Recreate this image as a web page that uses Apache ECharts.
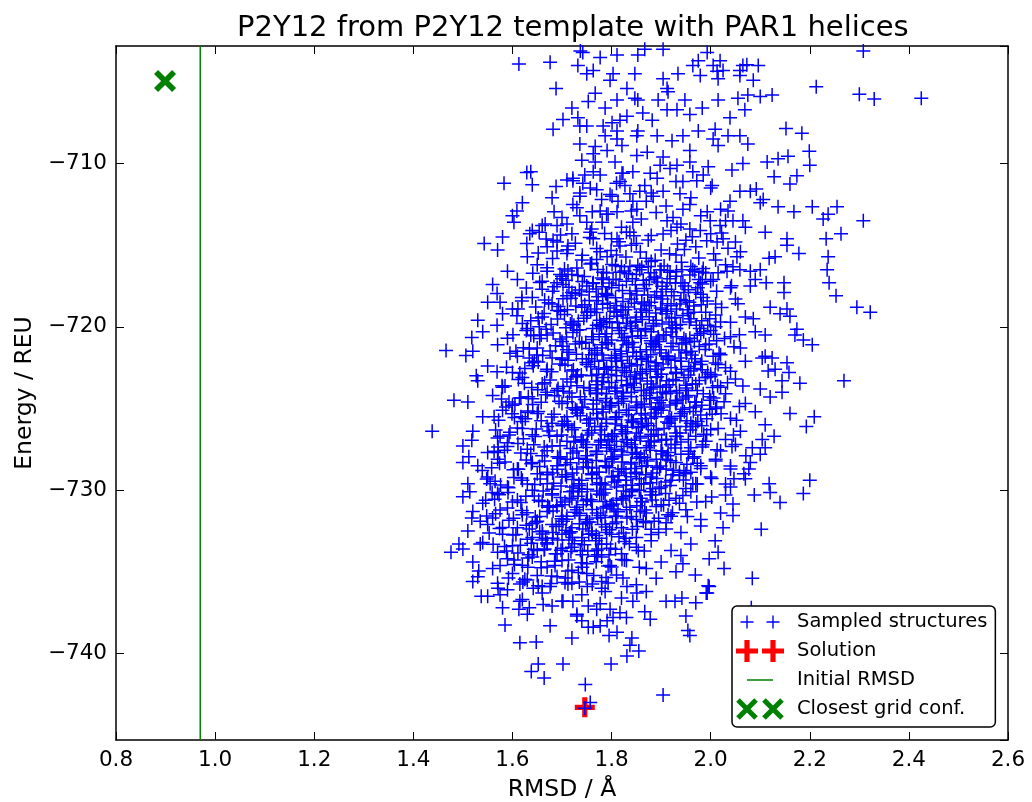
<!DOCTYPE html>
<html>
<head>
<meta charset="utf-8">
<script src="https://cdn.jsdelivr.net/npm/echarts@6/dist/echarts.min.js"></script>
<style>
  html, body { margin: 0; padding: 0; background: #fff; }
  #chart { width: 1032px; height: 802px; }
</style>
</head>
<body>
<div id="chart"></div>
<script>
// axis ranges
const rmsdMin = 0.8, rmsdMax = 2.6;
const energyMin = -745.3, energyMax = -702.8;

// reference markers
const initialRmsd = 0.97;
const solution = [[1.746, -743.3]];
const closestGrid = [[0.899, -704.95]];

// sampled structures
const topCloud = [
  [1.737,-703.1],[1.742,-703.2],[1.777,-703.5],[1.811,-703.35],[1.853,-703.35],[1.867,-703.0],[1.904,-703.0],
  [1.993,-703.2],[2.019,-703.7],[2.065,-704.0],[1.975,-703.7],[1.964,-704.0],[2.005,-704.0],[2.025,-704.3],
  [1.979,-704.6],[2.015,-704.8],[2.059,-704.6],[1.934,-704.5],[1.904,-704.8],[1.912,-705.4],[1.914,-705.6],
  [1.847,-704.5],[1.803,-704.5],[1.797,-704.9],[1.763,-704.3],[1.750,-704.5],[1.732,-704.0],[1.831,-705.4],
  [1.767,-705.7],[1.753,-706.2],[1.787,-706.6],[1.811,-706.1],[1.847,-706.0],[1.853,-706.1],[1.894,-706.1],
  [1.948,-706.1],[2.015,-706.1],[2.055,-706.0],[1.863,-706.9],[1.831,-707.1],[1.817,-707.35],[1.882,-707.35],
  [1.912,-706.7],[1.932,-706.7],[1.958,-707.0],[1.983,-706.6],[2.039,-707.2],[2.069,-706.7],[2.035,-708.3],
  [2.059,-708.3],[2.005,-708.5],[1.975,-708.0],[1.944,-708.3],[1.922,-708.6],[1.892,-708.3],[1.853,-708.0],
  [1.851,-708.3],[1.821,-708.9],[1.791,-709.2],[2.015,-708.9],[1.958,-709.2],
  [1.613,-703.9],[1.676,-703.8],[1.688,-705.4],[1.682,-707.9],[1.702,-707.3],[1.720,-706.6],[1.583,-711.2],
  [1.629,-710.55],[1.637,-710.5],[1.688,-711.4],[1.722,-711.05],[1.732,-707.2],[1.736,-707.7],[1.750,-707.7],
  [1.783,-707.7],[1.801,-707.5],[1.811,-708.0],[1.787,-708.3],[1.811,-708.5],[1.736,-708.8],[1.767,-708.95],
  [1.763,-709.4],[1.740,-709.8],[1.767,-709.9],[1.807,-709.9],[1.763,-710.5],[1.777,-710.7],[1.821,-710.6],
  [1.742,-711.2],[1.757,-711.5],[1.736,-711.8],[1.797,-711.9],[1.827,-711.35]
];

const upperCloud = [
  [1.609,-712.9],[1.603,-713.6],[1.684,-712.95],[1.666,-713.7],[1.690,-713.8],[1.710,-713.7],[1.543,-714.9],
  [1.635,-714.3],[1.629,-714.9],[1.654,-714.2],[1.682,-714.7],[1.690,-715.35],[1.712,-715.05],[1.670,-716.6],
  [1.660,-717.2],[1.696,-716.8],[1.720,-716.8],[1.702,-717.4],[1.736,-713.2],[1.722,-712.5],[1.736,-712.0],
  [1.722,-710.9],[1.746,-710.7],[1.801,-712.0],[1.813,-712.3],[1.811,-712.95],[1.793,-713.1],[1.777,-712.9],
  [1.781,-713.6],[1.761,-712.95],[1.757,-714.2],[1.763,-714.6],[1.777,-715.4],[1.791,-715.7],[1.811,-714.6],
  [1.817,-715.05],[1.837,-714.2],[1.843,-713.6],[1.851,-712.8],[1.843,-712.3],[1.837,-711.85],[1.857,-711.7],
  [1.867,-711.35],[1.884,-712.0],[1.904,-711.7],[1.892,-710.9],[1.878,-710.6],[1.843,-710.5],[1.823,-710.6],
  [1.817,-711.1],[1.851,-709.5],[1.872,-709.3],[1.904,-709.6],[1.898,-710.1],[1.918,-710.3],[1.932,-710.1],
  [1.958,-709.9],[1.964,-710.5],[1.995,-710.2],[1.985,-710.7],[2.003,-711.35],[1.972,-711.05],[1.944,-711.1],
  [1.938,-711.85],[1.958,-712.5],[1.944,-712.8],[1.924,-713.3],[1.912,-713.5],[1.932,-713.9],[1.958,-714.0],
  [1.979,-714.1],[1.999,-713.5],[1.993,-712.95],[2.039,-712.3],[2.035,-712.9],[2.045,-713.5],[2.065,-713.5],
  [2.065,-710.0],[2.043,-710.4],[2.059,-711.7],[2.019,-713.8],[2.025,-714.6],[2.013,-714.8],[2.053,-715.7],
  [2.059,-716.5],[2.033,-716.6],[2.005,-717.1],[1.983,-716.65],[1.964,-716.5],[1.942,-716.5],[1.918,-716.65],
  [1.898,-716.5],[1.874,-716.3],[1.857,-716.5],[1.837,-716.3],[1.817,-716.65],[1.803,-717.1],[1.783,-717.1],
  [1.763,-717.3],[1.912,-717.3],[1.944,-717.3],[1.979,-717.3]
];

const rightTail = [
  [2.213,-705.3],[2.300,-705.75],[2.330,-706.05],[2.425,-706.0],[2.308,-703.1],[2.152,-707.85],[2.184,-708.15],
  [2.199,-709.25],[2.200,-710.1],[2.156,-709.55],[2.136,-709.7],[2.114,-709.9],[2.128,-710.8],[2.174,-710.75],
  [2.160,-711.25],[2.092,-711.55],[2.106,-712.2],[2.136,-712.65],[2.168,-712.95],[2.205,-712.65],[2.255,-712.65],
  [2.227,-713.4],[2.237,-713.1],[2.308,-713.5],[2.263,-714.3],[2.233,-714.6],[2.154,-714.6],[2.154,-715.0],
  [2.178,-715.5],[2.237,-715.7],[2.118,-715.8],[2.235,-716.5],[2.239,-717.3],[2.253,-718.1],[2.295,-718.8],
  [2.322,-719.1],[2.148,-717.3],[2.148,-717.9],[2.112,-717.3],[2.080,-717.5],[2.154,-718.9],[2.160,-719.35],
  [2.174,-720.15],[2.110,-720.5],[2.086,-719.5],[2.100,-716.5],
  [2.059,-704.3],[2.096,-704.0],[2.073,-703.95],[2.086,-704.9],[2.013,-704.35],[2.100,-705.9],[2.124,-705.8],
  [2.075,-705.8],[2.009,-707.9],[2.075,-708.8],
  [2.269,-723.3],[2.209,-725.5],[2.193,-726.1],[2.205,-721.1],[2.187,-720.8],[2.180,-723.45],[2.158,-722.8],
  [2.154,-722.2],[2.144,-723.3],[2.144,-724.0],[2.160,-725.3],[2.128,-726.7],[2.104,-726.9],[2.110,-727.4],
  [2.084,-727.4],[2.200,-729.4],[2.187,-730.2],[2.118,-729.6],[2.120,-730.15],[2.140,-730.75],[2.088,-730.3],
  [2.102,-732.4],[2.084,-735.4],[2.027,-734.8],[2.015,-733.8],[1.997,-734.2],[2.009,-733.1],[2.025,-732.3],
  [2.045,-731.55],[2.045,-730.85],[1.995,-735.85],[1.991,-736.3],[2.082,-737.2],[2.124,-721.9],[2.116,-722.7],
  [2.104,-721.9],[2.071,-727.9],[2.077,-728.7],[2.067,-729.0],[2.047,-729.3],[2.170,-720.5]
];

const bottomTail = [
  [1.746,-743.35],[1.757,-743.0],[1.747,-741.9],[1.904,-742.55],[1.664,-741.5],[1.638,-741.1],[1.652,-740.65],
  [1.702,-740.65],[1.799,-740.65],[1.615,-739.35],[1.648,-739.3],[1.720,-739.05],[1.585,-738.25],[1.676,-738.3],
  [1.831,-740.15],[1.855,-739.85],[1.837,-739.5],[1.841,-739.05],[1.795,-738.9],[1.811,-738.7],[1.958,-738.9],
  [1.954,-738.6],[1.950,-737.7],[1.878,-737.9],[1.867,-737.45],[1.970,-736.9],[1.942,-736.6],[1.928,-736.8],
  [1.993,-736.3],[1.997,-735.9],[1.969,-735.2],[1.944,-734.5],
  [1.537,-736.5],[1.520,-735.6],[1.532,-734.95],[1.476,-733.8],[1.492,-733.3],[1.535,-733.3],[1.575,-736.4],
  [1.571,-736.0],[1.613,-737.3],[1.634,-737.2],[1.615,-736.8],[1.662,-737.0],[1.702,-736.8],[1.722,-736.8],
  [1.730,-737.6],[1.740,-738.0],[1.753,-738.4],[1.763,-738.4],[1.777,-738.3],[1.791,-738.0],[1.803,-737.8],
  [1.817,-737.5],[1.777,-736.95],[1.753,-737.1],[1.797,-737.3],[1.843,-736.8],[1.851,-736.3],[1.831,-735.9],
  [1.787,-736.2],[1.751,-735.9],[1.712,-735.75],[1.676,-735.9],[1.642,-736.0],[1.615,-735.75]
];

const leftTail = [
  [1.438,-726.4],[1.482,-724.5],[1.466,-721.45],[1.506,-721.75],[1.518,-720.65],[1.527,-723.0],[1.569,-722.75],
  [1.579,-723.6],[1.569,-719.9],[1.569,-717.95],[1.575,-718.5],[1.611,-718.9],[1.619,-718.2],[1.518,-726.95],
  [1.575,-726.7],[1.571,-727.35],[1.571,-727.7],[1.512,-727.95],[1.500,-728.3],[1.539,-728.8],[1.514,-730.1],
  [1.555,-729.6],[1.559,-730.15],[1.518,-731.7],[1.535,-731.9],[1.607,-721.5],[1.563,-725.5],[1.587,-724.9],
  [1.593,-724.6],[1.617,-724.35],[1.637,-720.5],[1.658,-720.5],[1.654,-720.0],[1.634,-721.9],[1.644,-722.1],
  [1.617,-725.5],[1.631,-725.25]
];

const coreCloud = [
  [1.64,-711.3],[1.71,-711.0],[1.77,-711.6],[1.81,-711.2],[1.88,-711.8],[1.93,-711.1],[2.00,-711.5],[2.08,-711.7],
  [1.62,-712.4],[1.68,-712.1],[1.73,-712.7],[1.78,-712.2],[1.84,-712.9],[1.87,-712.3],[1.91,-712.6],[1.96,-712.1],[2.02,-712.8],[2.10,-712.4],
  [1.60,-713.2],[1.66,-713.8],[1.70,-713.3],[1.75,-713.6],[1.79,-713.1],[1.82,-713.9],[1.86,-713.4],[1.89,-713.0],[1.94,-713.7],[1.98,-713.2],[2.03,-713.5],[2.07,-713.9],
  [1.58,-714.5],[1.64,-714.1],[1.69,-714.8],[1.72,-714.3],[1.76,-714.0],[1.80,-714.6],[1.83,-714.2],[1.85,-714.9],[1.88,-714.4],[1.92,-714.1],[1.95,-714.7],[2.00,-714.3],[2.05,-714.8],[2.11,-714.2],
  [1.57,-715.3],[1.63,-715.7],[1.67,-715.1],[1.71,-715.5],[1.74,-715.9],[1.77,-715.2],[1.81,-715.6],[1.84,-715.0],[1.87,-715.8],[1.90,-715.3],[1.93,-715.6],[1.97,-715.1],[2.01,-715.9],[2.06,-715.4],[2.13,-715.7],
  [1.59,-716.6],[1.65,-716.2],[1.70,-716.9],[1.73,-716.4],[1.76,-716.1],[1.79,-716.7],[1.82,-716.3],[1.85,-716.8],[1.88,-716.0],[1.90,-716.5],[1.93,-716.9],[1.96,-716.3],[1.99,-716.7],[2.03,-716.2],[2.08,-716.6],
  [1.56,-717.4],[1.61,-717.1],[1.66,-717.7],[1.69,-717.3],[1.72,-717.9],[1.75,-717.5],[1.78,-717.0],[1.80,-717.6],[1.83,-717.2],[1.85,-717.8],[1.87,-717.4],[1.89,-717.0],[1.91,-717.7],[1.94,-717.3],[1.97,-717.9],[2.00,-717.2],[2.04,-717.6],[2.09,-717.1],
  [1.55,-718.5],[1.60,-718.9],[1.64,-718.2],[1.68,-718.6],[1.71,-718.1],[1.74,-718.8],[1.77,-718.4],[1.79,-718.0],[1.81,-718.7],[1.84,-718.3],[1.86,-718.9],[1.88,-718.5],[1.90,-718.1],[1.92,-718.7],[1.95,-718.4],[1.98,-718.0],[2.01,-718.6],[2.05,-718.3],[2.12,-718.8],
  [1.53,-719.6],[1.58,-719.2],[1.62,-719.8],[1.66,-719.4],[1.69,-719.0],[1.72,-719.7],[1.75,-719.3],[1.77,-719.9],[1.79,-719.5],[1.81,-719.1],[1.83,-719.8],[1.85,-719.4],[1.87,-719.0],[1.89,-719.6],[1.91,-719.2],[1.93,-719.9],[1.96,-719.5],[1.99,-719.1],[2.02,-719.7],[2.07,-719.4],[2.14,-719.2],
  [1.54,-720.3],[1.59,-720.7],[1.63,-720.1],[1.67,-720.5],[1.70,-720.9],[1.73,-720.2],[1.76,-720.6],[1.78,-720.0],[1.80,-720.8],[1.82,-720.4],[1.84,-720.1],[1.86,-720.7],[1.88,-720.3],[1.89,-720.9],[1.91,-720.5],[1.93,-720.1],[1.95,-720.8],[1.98,-720.4],[2.01,-720.0],[2.04,-720.6],[2.09,-720.3],
  [1.52,-721.5],[1.57,-721.1],[1.61,-721.8],[1.65,-721.3],[1.68,-721.9],[1.71,-721.4],[1.74,-721.0],[1.76,-721.7],[1.78,-721.3],[1.80,-721.9],[1.82,-721.5],[1.83,-721.1],[1.85,-721.8],[1.87,-721.4],[1.88,-721.0],[1.90,-721.6],[1.92,-721.2],[1.94,-721.9],[1.96,-721.5],[1.99,-721.1],[2.02,-721.7],[2.06,-721.3],[2.11,-721.8],
  [1.55,-722.4],[1.60,-722.8],[1.64,-722.2],[1.67,-722.6],[1.70,-722.0],[1.72,-722.7],[1.75,-722.3],[1.77,-722.9],[1.79,-722.5],[1.81,-722.1],[1.83,-722.8],[1.84,-722.4],[1.86,-722.0],[1.87,-722.6],[1.89,-722.2],[1.90,-722.9],[1.92,-722.5],[1.94,-722.1],[1.96,-722.7],[1.98,-722.3],[2.00,-722.9],[2.03,-722.5],[2.07,-722.1],[2.13,-722.6],
  [1.53,-723.3],[1.58,-723.7],[1.62,-723.1],[1.66,-723.5],[1.69,-723.9],[1.71,-723.2],[1.73,-723.6],[1.76,-723.0],[1.78,-723.8],[1.80,-723.4],[1.81,-723.0],[1.83,-723.6],[1.85,-723.2],[1.86,-723.9],[1.88,-723.5],[1.89,-723.1],[1.91,-723.7],[1.93,-723.3],[1.95,-723.9],[1.97,-723.5],[1.99,-723.1],[2.02,-723.7],[2.05,-723.2],[2.10,-723.8],
  [1.51,-724.6],[1.56,-724.2],[1.60,-724.8],[1.64,-724.4],[1.67,-724.0],[1.70,-724.7],[1.72,-724.3],[1.74,-724.9],[1.77,-724.5],[1.79,-724.1],[1.80,-724.8],[1.82,-724.4],[1.84,-724.0],[1.85,-724.6],[1.87,-724.2],[1.88,-724.9],[1.90,-724.5],[1.91,-724.1],[1.93,-724.7],[1.95,-724.3],[1.97,-724.9],[2.00,-724.5],[2.03,-724.1],[2.07,-724.7],[2.12,-724.3],
  [1.54,-725.5],[1.58,-725.1],[1.62,-725.8],[1.65,-725.3],[1.68,-725.9],[1.71,-725.5],[1.73,-725.1],[1.75,-725.7],[1.77,-725.3],[1.79,-725.9],[1.81,-725.5],[1.83,-725.1],[1.84,-725.7],[1.86,-725.3],[1.87,-725.9],[1.89,-725.5],[1.90,-725.1],[1.92,-725.7],[1.94,-725.3],[1.96,-725.9],[1.98,-725.4],[2.01,-725.0],[2.04,-725.6],[2.09,-725.2],
  [1.52,-726.4],[1.57,-726.8],[1.61,-726.2],[1.64,-726.6],[1.67,-726.1],[1.69,-726.7],[1.72,-726.3],[1.74,-726.9],[1.76,-726.5],[1.78,-726.1],[1.80,-726.7],[1.82,-726.3],[1.83,-726.9],[1.85,-726.5],[1.86,-726.1],[1.88,-726.7],[1.89,-726.3],[1.91,-726.9],[1.93,-726.5],[1.95,-726.1],[1.97,-726.7],[2.00,-726.3],[2.03,-726.9],[2.06,-726.4],[2.11,-726.0],
  [1.50,-727.3],[1.55,-727.7],[1.59,-727.1],[1.63,-727.5],[1.66,-727.9],[1.68,-727.3],[1.71,-727.0],[1.73,-727.6],[1.75,-727.2],[1.77,-727.8],[1.79,-727.4],[1.81,-727.0],[1.82,-727.6],[1.84,-727.2],[1.85,-727.8],[1.87,-727.4],[1.88,-727.0],[1.90,-727.6],[1.92,-727.2],[1.94,-727.8],[1.96,-727.4],[1.99,-727.0],[2.02,-727.6],[2.05,-727.2],[2.10,-727.8],
  [1.53,-728.5],[1.57,-728.1],[1.61,-728.7],[1.64,-728.3],[1.67,-728.9],[1.69,-728.5],[1.71,-728.1],[1.73,-728.7],[1.75,-728.3],[1.77,-728.9],[1.79,-728.5],[1.80,-728.1],[1.82,-728.7],[1.84,-728.3],[1.85,-728.9],[1.87,-728.5],[1.89,-728.1],[1.91,-728.7],[1.93,-728.3],[1.96,-728.9],[1.98,-728.5],[2.01,-728.1],[2.04,-728.7],[2.08,-728.3],
  [1.51,-729.6],[1.55,-729.2],[1.59,-729.8],[1.62,-729.4],[1.65,-729.0],[1.67,-729.6],[1.70,-729.2],[1.72,-729.8],[1.74,-729.4],[1.76,-729.0],[1.78,-729.6],[1.80,-729.2],[1.81,-729.8],[1.83,-729.4],[1.85,-729.0],[1.86,-729.6],[1.88,-729.2],[1.90,-729.8],[1.92,-729.4],[1.95,-729.0],[1.97,-729.6],[2.00,-729.2],[2.04,-729.8],[2.07,-729.3],
  [1.50,-730.4],[1.54,-730.8],[1.57,-730.2],[1.61,-730.6],[1.64,-730.0],[1.66,-730.7],[1.68,-730.3],[1.70,-730.9],[1.72,-730.5],[1.74,-730.1],[1.76,-730.7],[1.78,-730.3],[1.80,-730.9],[1.82,-730.5],[1.84,-730.1],[1.86,-730.7],[1.88,-730.3],[1.90,-730.9],[1.93,-730.5],[1.96,-730.1],[1.99,-730.7],[2.03,-730.3],
  [1.52,-731.3],[1.56,-731.7],[1.59,-731.1],[1.62,-731.5],[1.65,-731.9],[1.67,-731.3],[1.69,-731.0],[1.71,-731.6],[1.73,-731.2],[1.75,-731.8],[1.77,-731.4],[1.79,-731.0],[1.81,-731.6],[1.83,-731.2],[1.85,-731.8],[1.87,-731.4],[1.89,-731.0],[1.92,-731.6],[1.95,-731.2],[1.98,-731.8],[2.02,-731.4],
  [1.51,-732.5],[1.55,-732.1],[1.58,-732.7],[1.61,-732.3],[1.64,-732.9],[1.66,-732.5],[1.68,-732.1],[1.70,-732.7],[1.72,-732.3],[1.74,-732.9],[1.76,-732.5],[1.78,-732.1],[1.80,-732.7],[1.82,-732.3],[1.85,-732.9],[1.88,-732.4],[1.91,-732.0],[1.94,-732.6],[1.98,-732.2],
  [1.50,-733.6],[1.54,-733.2],[1.57,-733.8],[1.60,-733.4],[1.63,-733.0],[1.65,-733.7],[1.67,-733.3],[1.69,-733.9],[1.72,-733.5],[1.74,-733.1],[1.77,-733.7],[1.79,-733.3],[1.82,-733.9],[1.85,-733.5],[1.88,-733.1],[1.92,-733.7],[1.96,-733.3],
  [1.52,-734.4],[1.56,-734.8],[1.59,-734.2],[1.62,-734.6],[1.64,-734.1],[1.67,-734.7],[1.70,-734.3],[1.72,-734.9],[1.75,-734.5],[1.78,-734.1],[1.80,-734.7],[1.83,-734.3],[1.87,-734.8],[1.90,-734.4],[1.94,-734.0],
  [1.53,-735.3],[1.57,-735.7],[1.60,-735.1],[1.63,-735.5],[1.66,-735.9],[1.69,-735.3],[1.72,-735.7],[1.75,-735.1],[1.78,-735.6],[1.81,-735.2],[1.85,-735.8],[1.89,-735.4],[1.93,-735.0],
  [1.55,-736.5],[1.59,-736.1],[1.62,-736.7],[1.66,-736.3],[1.70,-736.8],[1.74,-736.4],[1.78,-736.0],[1.82,-736.6],[1.87,-736.2],[1.91,-736.8],
  [1.58,-737.2],[1.63,-737.6],[1.68,-737.1],[1.73,-737.7],[1.77,-737.3],[1.83,-737.8]
];

// denser inner part of the cloud
const coreDense = [
  [1.705,-716.45],[1.732,-716.85],[1.757,-716.15],[1.783,-716.65],[1.808,-716.25],[1.834,-716.75],[1.861,-716.35],[1.886,-716.95],[1.913,-716.55],[1.941,-716.05],[1.968,-716.6],
  [1.684,-717.55],[1.708,-717.15],[1.735,-717.75],[1.762,-717.35],[1.788,-717.95],[1.815,-717.45],[1.842,-717.05],[1.866,-717.65],[1.893,-717.25],[1.921,-717.85],[1.948,-717.5],[1.976,-717.1],
  [1.665,-718.35],[1.693,-718.75],[1.718,-718.25],[1.746,-718.65],[1.773,-718.15],[1.797,-718.85],[1.823,-718.45],[1.851,-718.05],[1.876,-718.7],[1.903,-718.3],[1.931,-718.9],[1.957,-718.5],[1.985,-718.2],
  [1.652,-719.45],[1.678,-719.85],[1.705,-719.25],[1.733,-719.65],[1.758,-719.05],[1.784,-719.75],[1.811,-719.35],[1.838,-719.95],[1.862,-719.55],[1.889,-719.15],[1.916,-719.7],[1.944,-719.3],[1.971,-719.9],[1.998,-719.5],
  [1.643,-720.55],[1.668,-720.15],[1.696,-720.75],[1.722,-720.35],[1.748,-720.95],[1.775,-720.45],[1.801,-720.05],[1.826,-720.65],[1.853,-720.25],[1.879,-720.85],[1.905,-720.5],[1.931,-720.1],[1.958,-720.7],[1.986,-720.3],[2.012,-720.85],
  [1.634,-721.35],[1.661,-721.75],[1.687,-721.15],[1.714,-721.55],[1.741,-721.95],[1.766,-721.45],[1.793,-721.05],[1.818,-721.65],[1.845,-721.25],[1.871,-721.85],[1.897,-721.4],[1.924,-721.0],[1.951,-721.6],[1.977,-721.2],[2.005,-721.8],
  [1.625,-722.55],[1.652,-722.15],[1.679,-722.75],[1.706,-722.35],[1.731,-722.95],[1.758,-722.45],[1.784,-722.05],[1.809,-722.65],[1.836,-722.25],[1.862,-722.85],[1.888,-722.4],[1.914,-722.0],[1.941,-722.6],[1.968,-722.2],[1.994,-722.8],[2.015,-722.3],
  [1.624,-723.45],[1.651,-723.85],[1.676,-723.25],[1.702,-723.65],[1.728,-723.05],[1.755,-723.75],[1.781,-723.35],[1.807,-723.95],[1.832,-723.55],[1.858,-723.15],[1.884,-723.7],[1.911,-723.3],[1.937,-723.9],[1.963,-723.5],[1.989,-723.1],[2.014,-723.6],
  [1.614,-724.35],[1.641,-724.75],[1.667,-724.15],[1.694,-724.55],[1.721,-724.95],[1.746,-724.45],[1.772,-724.05],[1.798,-724.65],[1.824,-724.25],[1.851,-724.85],[1.877,-724.4],[1.903,-724.0],[1.929,-724.6],[1.955,-724.2],[1.982,-724.8],[2.006,-724.35],
  [1.604,-725.55],[1.631,-725.15],[1.658,-725.75],[1.684,-725.35],[1.711,-725.95],[1.737,-725.45],[1.763,-725.05],[1.789,-725.65],[1.815,-725.25],[1.842,-725.85],[1.868,-725.4],[1.894,-725.0],[1.921,-725.6],[1.947,-725.2],[1.974,-725.8],[2.003,-725.35],
  [1.595,-726.45],[1.622,-726.85],[1.648,-726.25],[1.675,-726.65],[1.701,-726.05],[1.727,-726.75],[1.754,-726.35],[1.779,-726.95],[1.806,-726.55],[1.832,-726.15],[1.858,-726.7],[1.885,-726.3],[1.911,-726.9],[1.938,-726.5],[1.964,-726.1],[1.992,-726.6],
  [1.584,-727.55],[1.611,-727.15],[1.637,-727.75],[1.664,-727.35],[1.691,-727.95],[1.717,-727.45],[1.743,-727.05],[1.769,-727.65],[1.796,-727.25],[1.822,-727.85],[1.848,-727.4],[1.874,-727.0],[1.901,-727.6],[1.928,-727.2],[1.955,-727.8],[1.983,-727.35],
  [1.574,-728.35],[1.602,-728.75],[1.628,-728.15],[1.655,-728.55],[1.681,-728.95],[1.707,-728.45],[1.734,-728.05],[1.761,-728.65],[1.787,-728.25],[1.813,-728.85],[1.839,-728.4],[1.866,-728.0],[1.892,-728.6],[1.919,-728.2],[1.946,-728.8],[1.973,-728.35],
  [1.565,-729.45],[1.592,-729.85],[1.618,-729.25],[1.645,-729.65],[1.671,-729.05],[1.698,-729.75],[1.724,-729.35],[1.751,-729.95],[1.777,-729.55],[1.803,-729.15],[1.829,-729.7],[1.856,-729.3],[1.883,-729.9],[1.909,-729.5],[1.937,-729.1],[1.964,-729.6],
  [1.564,-730.55],[1.591,-730.15],[1.617,-730.75],[1.644,-730.35],[1.671,-730.95],[1.697,-730.45],[1.723,-730.05],[1.749,-730.65],[1.776,-730.25],[1.803,-730.85],[1.829,-730.4],[1.856,-730.0],[1.882,-730.6],[1.909,-730.2],[1.937,-730.8],
  [1.566,-731.45],[1.593,-731.85],[1.619,-731.25],[1.646,-731.65],[1.672,-731.05],[1.699,-731.75],[1.726,-731.35],[1.752,-731.95],[1.778,-731.55],[1.805,-731.15],[1.831,-731.7],[1.858,-731.3],[1.886,-731.9],[1.914,-731.5],
  [1.574,-732.35],[1.601,-732.75],[1.628,-732.15],[1.655,-732.55],[1.681,-732.95],[1.708,-732.45],[1.735,-732.05],[1.761,-732.65],[1.788,-732.25],[1.815,-732.85],[1.842,-732.4],[1.869,-732.0],[1.895,-732.6],
  [1.584,-733.45],[1.611,-733.85],[1.638,-733.25],[1.664,-733.65],[1.691,-733.05],[1.718,-733.75],[1.745,-733.35],[1.772,-733.95],[1.798,-733.55],[1.826,-733.15],[1.854,-733.7],
  [1.604,-734.55],[1.631,-734.15],[1.658,-734.75],[1.685,-734.35],[1.712,-734.95],[1.739,-734.45],[1.766,-734.05],[1.793,-734.65],[1.821,-734.25],
  [1.625,-735.45],[1.652,-735.85],[1.679,-735.25],[1.706,-735.65],[1.733,-735.05],[1.761,-735.75],[1.789,-735.35]
];

// further fill between the rows of the cloud body
const coreFill = [
  [1.668,-714.62],[1.697,-714.38],[1.727,-714.88],[1.756,-714.52],[1.786,-714.28],[1.815,-714.78],[1.845,-714.42],[1.874,-714.68],[1.904,-714.32],[1.933,-714.92],[1.963,-714.48],[1.992,-714.72],[2.022,-714.25],
  [1.652,-715.48],[1.681,-715.82],[1.711,-715.28],[1.741,-715.62],[1.770,-715.88],[1.799,-715.32],[1.829,-715.72],[1.858,-715.42],[1.888,-715.92],[1.917,-715.52],[1.947,-715.26],[1.976,-715.78],[2.006,-715.52],[2.035,-715.18],
  [1.641,-716.72],[1.670,-716.38],[1.712,-716.58],[1.745,-716.92],[1.772,-716.48],[1.801,-716.18],[1.826,-716.58],[1.853,-716.22],[1.879,-716.68],[1.906,-716.28],[1.931,-716.62],[1.958,-716.82],[1.985,-716.42],[2.015,-716.68],[2.045,-716.32],
  [1.628,-717.62],[1.655,-717.28],[1.681,-717.82],[1.714,-717.58],[1.741,-717.22],[1.769,-717.68],[1.795,-717.32],[1.822,-717.78],[1.848,-717.42],[1.876,-717.12],[1.902,-717.52],[1.929,-717.32],[1.955,-717.72],[1.983,-717.38],[2.012,-717.82],[2.042,-717.48],
  [1.619,-718.42],[1.647,-718.78],[1.673,-718.52],[1.702,-718.28],[1.728,-718.72],[1.755,-718.38],[1.782,-718.62],[1.808,-718.22],[1.834,-718.78],[1.861,-718.48],[1.887,-718.18],[1.913,-718.58],[1.940,-718.32],[1.966,-718.72],[1.993,-718.42],[2.022,-718.82],[2.055,-718.58],
  [1.609,-719.32],[1.637,-719.62],[1.664,-719.18],[1.691,-719.52],[1.717,-719.82],[1.744,-719.48],[1.770,-719.12],[1.796,-719.68],[1.823,-719.28],[1.849,-719.72],[1.876,-719.38],[1.902,-719.82],[1.928,-719.42],[1.955,-719.18],[1.982,-719.62],[2.010,-719.28],[2.040,-719.72],
  [1.601,-720.48],[1.628,-720.22],[1.655,-720.72],[1.682,-720.38],[1.709,-720.62],[1.736,-720.18],[1.763,-720.78],[1.790,-720.42],[1.816,-720.22],[1.842,-720.58],[1.868,-720.18],[1.894,-720.62],[1.920,-720.32],[1.946,-720.72],[1.973,-720.52],[2.000,-720.22],[2.028,-720.72],[2.058,-720.48],
  [1.595,-721.62],[1.622,-721.28],[1.649,-721.72],[1.676,-721.48],[1.702,-721.18],[1.729,-721.68],[1.755,-721.32],[1.781,-721.72],[1.806,-721.38],[1.832,-721.82],[1.858,-721.52],[1.884,-721.22],[1.910,-721.78],[1.936,-721.42],[1.962,-721.72],[1.989,-721.38],[2.017,-721.62],[2.047,-721.22],
  [1.588,-722.48],[1.615,-722.82],[1.642,-722.38],[1.669,-722.72],[1.696,-722.28],[1.723,-722.62],[1.749,-722.18],[1.774,-722.58],[1.800,-722.42],[1.826,-722.68],[1.852,-722.32],[1.878,-722.72],[1.904,-722.28],[1.930,-722.78],[1.956,-722.42],[1.983,-722.62],[2.010,-722.22],[2.040,-722.72],
  [1.585,-723.62],[1.612,-723.22],[1.639,-723.72],[1.665,-723.42],[1.692,-723.78],[1.718,-723.38],[1.744,-723.72],[1.769,-723.32],[1.795,-723.68],[1.820,-723.28],[1.846,-723.72],[1.872,-723.32],[1.898,-723.62],[1.924,-723.22],[1.950,-723.58],[1.977,-723.28],[2.004,-723.72],[2.034,-723.42],[2.065,-723.62],
  [1.578,-724.42],[1.605,-724.72],[1.632,-724.28],[1.658,-724.62],[1.685,-724.22],[1.711,-724.58],[1.737,-724.28],[1.763,-724.72],[1.789,-724.38],[1.814,-724.68],[1.840,-724.28],[1.866,-724.72],[1.892,-724.32],[1.918,-724.78],[1.944,-724.42],[1.971,-724.62],[1.998,-724.28],[2.027,-724.58],[2.058,-724.88],
  [1.572,-725.72],[1.599,-725.32],[1.626,-725.62],[1.652,-725.18],[1.679,-725.52],[1.705,-725.78],[1.731,-725.28],[1.757,-725.62],[1.783,-725.22],[1.808,-725.68],[1.834,-725.38],[1.860,-725.62],[1.886,-725.28],[1.912,-725.82],[1.938,-725.48],[1.965,-725.18],[1.992,-725.62],[2.021,-725.32],[2.052,-725.72],
  [1.566,-726.32],[1.593,-726.62],[1.620,-726.22],[1.646,-726.72],[1.673,-726.38],[1.699,-726.62],[1.725,-726.18],[1.751,-726.62],[1.777,-726.32],[1.802,-726.72],[1.828,-726.42],[1.854,-726.18],[1.880,-726.58],[1.906,-726.22],[1.932,-726.72],[1.959,-726.32],[1.986,-726.58],[2.015,-726.22],[2.046,-726.62],
  [1.563,-727.62],[1.590,-727.32],[1.617,-727.72],[1.643,-727.22],[1.670,-727.58],[1.696,-727.28],[1.722,-727.72],[1.748,-727.38],[1.774,-727.22],[1.799,-727.62],[1.825,-727.32],[1.851,-727.72],[1.877,-727.28],[1.903,-727.78],[1.929,-727.42],[1.956,-727.62],[1.984,-727.22],[2.013,-727.52],[2.043,-727.32],
  [1.558,-728.62],[1.585,-728.28],[1.612,-728.72],[1.638,-728.38],[1.665,-728.22],[1.691,-728.72],[1.717,-728.32],[1.743,-728.58],[1.769,-728.18],[1.795,-728.62],[1.821,-728.28],[1.847,-728.68],[1.873,-728.22],[1.899,-728.52],[1.925,-728.78],[1.952,-728.42],[1.980,-728.68],[2.010,-728.22],[2.040,-728.52],
  [1.548,-729.32],[1.576,-729.68],[1.603,-729.22],[1.630,-729.62],[1.656,-729.32],[1.683,-729.58],[1.709,-729.18],[1.735,-729.72],[1.761,-729.28],[1.787,-729.68],[1.813,-729.38],[1.839,-729.18],[1.865,-729.62],[1.891,-729.28],[1.918,-729.72],[1.945,-729.38],[1.973,-729.62],[2.002,-729.28],[2.030,-729.62],
  [1.546,-730.62],[1.573,-730.28],[1.600,-730.72],[1.627,-730.38],[1.653,-730.62],[1.680,-730.22],[1.706,-730.72],[1.732,-730.38],[1.758,-730.58],[1.784,-730.18],[1.810,-730.62],[1.836,-730.32],[1.862,-730.72],[1.889,-730.28],[1.916,-730.62],[1.944,-730.32],[1.972,-730.72],[2.002,-730.42],
  [1.548,-731.58],[1.575,-731.22],[1.602,-731.72],[1.629,-731.38],[1.655,-731.62],[1.682,-731.28],[1.709,-731.78],[1.735,-731.42],[1.761,-731.18],[1.787,-731.68],[1.813,-731.32],[1.840,-731.62],[1.867,-731.22],[1.895,-731.72],[1.923,-731.38],[1.953,-731.62],
  [1.553,-732.62],[1.580,-732.28],[1.607,-732.72],[1.634,-732.38],[1.661,-732.68],[1.688,-732.22],[1.715,-732.62],[1.742,-732.38],[1.769,-732.78],[1.796,-732.42],[1.824,-732.62],[1.852,-732.22],[1.880,-732.72],[1.910,-732.38],
  [1.561,-733.32],[1.588,-733.72],[1.616,-733.38],[1.643,-733.62],[1.670,-733.22],[1.698,-733.68],[1.725,-733.28],[1.752,-733.72],[1.780,-733.32],[1.808,-733.62],[1.836,-733.28],[1.866,-733.72],
  [1.575,-734.62],[1.603,-734.28],[1.631,-734.72],[1.658,-734.38],[1.686,-734.62],[1.713,-734.28],[1.741,-734.72],[1.769,-734.38],[1.797,-734.62],[1.826,-734.28],[1.856,-734.72],
  [1.592,-735.38],[1.621,-735.62],[1.650,-735.22],[1.678,-735.72],[1.707,-735.38],[1.735,-735.62],[1.764,-735.22],[1.793,-735.68],[1.823,-735.38]
];

// the most crowded band of the body
const coreExtra = [
  [1.700,-717.05],[1.727,-717.95],[1.755,-717.85],[1.781,-717.55],[1.809,-717.1],[1.837,-717.95],[1.864,-717.15],[1.891,-717.85],[1.918,-717.05],[1.946,-717.9],[1.974,-717.6],
  [1.711,-718.95],[1.739,-718.05],[1.766,-718.9],[1.792,-718.1],[1.819,-718.95],[1.846,-718.55],[1.873,-718.05],[1.899,-718.85],[1.926,-718.1],[1.953,-718.95],[1.981,-718.65],
  [1.697,-719.05],[1.724,-719.9],[1.751,-719.1],[1.778,-719.85],[1.805,-719.05],[1.832,-719.45],[1.859,-719.1],[1.885,-719.95],[1.912,-719.05],[1.939,-719.85],[1.966,-719.1],[1.994,-719.9],
  [1.708,-720.05],[1.735,-720.9],[1.762,-720.1],[1.789,-720.95],[1.815,-720.05],[1.842,-720.95],[1.869,-720.1],[1.896,-720.9],[1.923,-720.05],[1.950,-720.95],[1.978,-720.1],[2.006,-720.45],
  [1.700,-721.9],[1.727,-721.05],[1.754,-721.95],[1.781,-721.1],[1.808,-721.9],[1.834,-721.05],[1.861,-721.95],[1.888,-721.1],[1.915,-721.9],[1.942,-721.05],[1.969,-721.95],[1.997,-721.05],
  [1.712,-722.05],[1.739,-722.95],[1.766,-722.1],[1.793,-722.9],[1.820,-722.05],[1.847,-722.95],[1.874,-722.1],[1.901,-722.9],[1.928,-722.05],[1.955,-722.95],[1.982,-722.1],[2.009,-722.95],
  [1.703,-723.95],[1.730,-723.05],[1.757,-723.9],[1.784,-723.1],[1.811,-723.95],[1.838,-723.05],[1.865,-723.9],[1.892,-723.05],[1.919,-723.95],[1.946,-723.1],[1.973,-723.9],[2.000,-723.05],
  [1.715,-724.05],[1.742,-724.95],[1.769,-724.1],[1.796,-724.9],[1.823,-724.05],[1.850,-724.95],[1.877,-724.05],[1.904,-724.9],[1.931,-724.05],[1.958,-724.95],[1.985,-724.1],[2.012,-724.9],
  [1.700,-725.95],[1.727,-725.05],[1.754,-725.9],[1.781,-725.05],[1.808,-725.95],[1.835,-725.1],[1.862,-725.95],[1.889,-725.05],[1.916,-725.9],[1.943,-725.05],[1.970,-725.95],[1.998,-725.05],
  [1.712,-726.05],[1.739,-726.95],[1.766,-726.1],[1.793,-726.9],[1.820,-726.05],[1.847,-726.95],[1.874,-726.05],[1.901,-726.95],[1.928,-726.1],[1.955,-726.9],[1.982,-726.05],
  [1.697,-727.95],[1.724,-727.05],[1.751,-727.9],[1.778,-727.05],[1.805,-727.95],[1.832,-727.1],[1.859,-727.95],[1.886,-727.05],[1.913,-727.9],[1.940,-727.05],[1.967,-727.95],
  [1.694,-728.05],[1.721,-728.95],[1.748,-728.1],[1.775,-728.9],[1.802,-728.05],[1.829,-728.95],[1.856,-728.05],[1.883,-728.95],[1.910,-728.1],[1.937,-728.9],[1.964,-728.05],
  [1.680,-729.95],[1.707,-729.05],[1.734,-729.9],[1.761,-729.05],[1.788,-729.95],[1.815,-729.1],[1.842,-729.95],[1.869,-729.05],[1.896,-729.9],[1.923,-729.05],[1.950,-729.9],
  [1.662,-730.05],[1.689,-730.95],[1.716,-730.1],[1.743,-730.9],[1.770,-730.05],[1.797,-730.95],[1.824,-730.05],[1.851,-730.95],[1.878,-730.1],[1.905,-730.9],
  [1.648,-731.95],[1.675,-731.05],[1.702,-731.9],[1.729,-731.05],[1.756,-731.95],[1.783,-731.1],[1.810,-731.95],[1.837,-731.05],[1.864,-731.9],
  [1.640,-732.05],[1.667,-732.95],[1.694,-732.1],[1.721,-732.9],[1.748,-732.05],[1.775,-732.95],[1.802,-732.05],[1.829,-732.95],
  [1.633,-733.95],[1.660,-733.05],[1.687,-733.9],[1.714,-733.05],[1.741,-733.95],[1.768,-733.1],[1.795,-733.95]
];

// darkest centre of the cloud
const coreCentre = [
  [1.792,-718.55],[1.828,-718.95],[1.866,-718.6],[1.902,-718.95],[1.938,-718.6],
  [1.776,-719.6],[1.812,-719.75],[1.848,-719.65],[1.884,-719.8],[1.921,-719.45],[1.957,-719.7],
  [1.787,-720.6],[1.823,-720.85],[1.859,-720.55],[1.895,-720.75],[1.931,-720.6],[1.967,-720.9],
  [1.771,-721.6],[1.807,-721.75],[1.843,-721.55],[1.879,-721.7],[1.915,-721.8],[1.951,-721.55],
  [1.786,-722.6],[1.822,-722.5],[1.858,-722.75],[1.894,-722.6],[1.930,-722.85],[1.966,-722.55],
  [1.772,-723.55],[1.808,-723.75],[1.844,-723.45],[1.880,-723.8],[1.916,-723.55],[1.952,-723.75],
  [1.788,-724.6],[1.824,-724.55],[1.860,-724.75],[1.896,-724.65],[1.932,-724.5],[1.968,-724.6],
  [1.772,-725.6],[1.808,-725.55],[1.844,-725.8],[1.880,-725.6],[1.916,-725.5],[1.952,-725.75],
  [1.786,-726.6],[1.822,-726.55],[1.858,-726.8],[1.894,-726.6],[1.930,-726.7],
  [1.770,-727.6],[1.806,-727.5],[1.842,-727.7],[1.878,-727.55],[1.914,-727.7],
  [1.753,-728.6],[1.789,-728.55],[1.825,-728.7],[1.861,-728.55],[1.897,-728.7],
  [1.734,-729.6],[1.770,-729.65],[1.806,-729.5],[1.842,-729.7],[1.878,-729.55],
  [1.715,-730.6],[1.751,-730.55],[1.787,-730.7],[1.823,-730.6],[1.859,-730.5],
  [1.700,-731.6],[1.736,-731.55],[1.772,-731.7],[1.808,-731.6],
  [1.682,-732.6],[1.718,-732.55],[1.754,-732.7],[1.790,-732.6],
  [1.665,-733.6],[1.701,-733.55],[1.737,-733.7],[1.773,-733.6]
];

const sampled = [...coreCloud, ...coreDense, ...coreFill, ...coreExtra, ...coreCentre, ...topCloud,
  ...upperCloud, ...rightTail, ...leftTail, ...bottomTail];

// marker shapes
const plusThin = 'path://M-0.75,-7H0.75V-0.75H7V0.75H0.75V7H-0.75V0.75H-7V-0.75H-0.75Z';
const plusBold = 'path://M-2.6,-10H2.6V-2.6H10V2.6H2.6V10H-2.6V2.6H-10V-2.6H-2.6Z';
const crossBold = 'path://M-6.23,-9.77L9.77,6.23L6.23,9.77L-9.77,-6.23Z M-9.77,6.23L6.23,-9.77L9.77,-6.23L-6.23,9.77Z';

// legend icons: two markers each, in a 57x24 box
const box = 'M0,0L0.01,0L0,0.01Z M57,24L56.99,24L57,23.99Z ';
const iconSampled = 'path://' + box +
  'M11.3,5.5H12.7V11.3H18.5V12.7H12.7V18.5H11.3V12.7H5.5V11.3H11.3Z ' +
  'M37.3,5.5H38.7V11.3H44.5V12.7H38.7V18.5H37.3V12.7H31.5V11.3H37.3Z';
const iconSolution = 'path://' + box +
  'M9.4,1H14.6V9.4H23V14.6H14.6V23H9.4V14.6H1V9.4H9.4Z ' +
  'M35.4,1H40.6V9.4H49V14.6H40.6V23H35.4V14.6H27V9.4H35.4Z';
const iconInitial = 'path://' + box + 'M12,11.25H38V12.75H12Z';
const iconGrid = 'path://' + box +
  'M4.8,1.2L22.8,19.2L19.2,22.8L1.2,4.8Z M1.2,19.2L19.2,1.2L22.8,4.8L4.8,22.8Z ' +
  'M30.8,1.2L48.8,19.2L45.2,22.8L27.2,4.8Z M27.2,19.2L45.2,1.2L48.8,4.8L30.8,22.8Z';

const font = 'DejaVu Sans';
const chart = echarts.init(document.getElementById('chart'));

const frameAxis = {
  axisLine: { show: true, onZero: false, lineStyle: { color: '#000', width: 1.5 } },
  axisTick: { show: true, inside: true, length: 8, lineStyle: { color: '#000', width: 1 } },
  splitLine: { show: false }
};

chart.setOption({
  animation: false,
  backgroundColor: '#fff',
  title: {
    text: 'P2Y12 from P2Y12 template with PAR1 helices',
    left: 232,
    top: 9,
    textStyle: { fontFamily: font, fontSize: 29, fontWeight: 'normal', color: '#000' }
  },
  grid: { left: 116, right: 24, top: 46, bottom: 62, containLabel: false, outerBoundsMode: 'none' },
  legend: {
    orient: 'vertical',
    left: 732,
    top: 606,
    padding: [4, 8, 6, 3],
    itemGap: 5,
    itemWidth: 57,
    itemHeight: 24,
    selectedMode: false,
    borderColor: '#000',
    borderWidth: 1.5,
    borderRadius: 5,
    backgroundColor: '#fff',
    textStyle: { fontFamily: font, fontSize: 19.5, color: '#000' },
    data: [
      { name: 'Sampled structures', icon: iconSampled },
      { name: 'Solution', icon: iconSolution },
      { name: 'Initial RMSD', icon: iconInitial },
      { name: 'Closest grid conf.', icon: iconGrid }
    ]
  },
  xAxis: [
    Object.assign({}, frameAxis, {
      type: 'value', position: 'bottom', min: rmsdMin, max: rmsdMax, interval: 0.2,
      name: 'RMSD / Å', nameLocation: 'middle', nameGap: 38,
      nameTextStyle: { fontFamily: font, fontSize: 23.5, color: '#000' },
      axisLabel: { fontFamily: font, fontSize: 21.5, color: '#000', margin: 9,
        showMinLabel: true, showMaxLabel: true, formatter: v => v.toFixed(1) }
    }),
    Object.assign({}, frameAxis, {
      type: 'value', position: 'top', min: rmsdMin, max: rmsdMax, interval: 0.2,
      axisLabel: { show: false }
    })
  ],
  yAxis: [
    Object.assign({}, frameAxis, {
      type: 'value', position: 'left', min: energyMin, max: energyMax,
      splitNumber: 4, minInterval: 10, maxInterval: 10,
      name: 'Energy / REU', nameLocation: 'middle', nameGap: 73, nameRotate: 90,
      nameTextStyle: { fontFamily: font, fontSize: 23.5, color: '#000' },
      axisLabel: { fontFamily: font, fontSize: 21.5, color: '#000', margin: 9,
        showMinLabel: false, showMaxLabel: false,
        formatter: v => String(v).replace('-', '\u2212') }
    }),
    Object.assign({}, frameAxis, {
      type: 'value', position: 'right', min: energyMin, max: energyMax,
      splitNumber: 4, minInterval: 10, maxInterval: 10,
      axisLabel: { show: false }
    })
  ],
  series: [
    {
      name: 'Solution',
      type: 'scatter',
      data: solution,
      symbol: plusBold,
      symbolSize: 20,
      itemStyle: { color: '#ff0000', opacity: 1 },
      z: 2
    },
    {
      name: 'Sampled structures',
      type: 'scatter',
      data: sampled,
      symbol: plusThin,
      symbolSize: 14,
      large: false,
      progressive: 0,
      itemStyle: { color: '#0000ff', opacity: 1 },
      z: 3
    },
    {
      name: 'Initial RMSD',
      type: 'line',
      data: [[initialRmsd, energyMin], [initialRmsd, energyMax]],
      showSymbol: false,
      symbol: 'none',
      lineStyle: { color: '#008000', width: 1.5, opacity: 1 },
      itemStyle: { color: '#008000', opacity: 1 },
      z: 4
    },
    {
      name: 'Closest grid conf.',
      type: 'scatter',
      data: closestGrid,
      symbol: crossBold,
      symbolSize: 22,
      itemStyle: { color: '#008000', opacity: 1 },
      z: 5
    }
  ]
});
</script>
</body>
</html>
